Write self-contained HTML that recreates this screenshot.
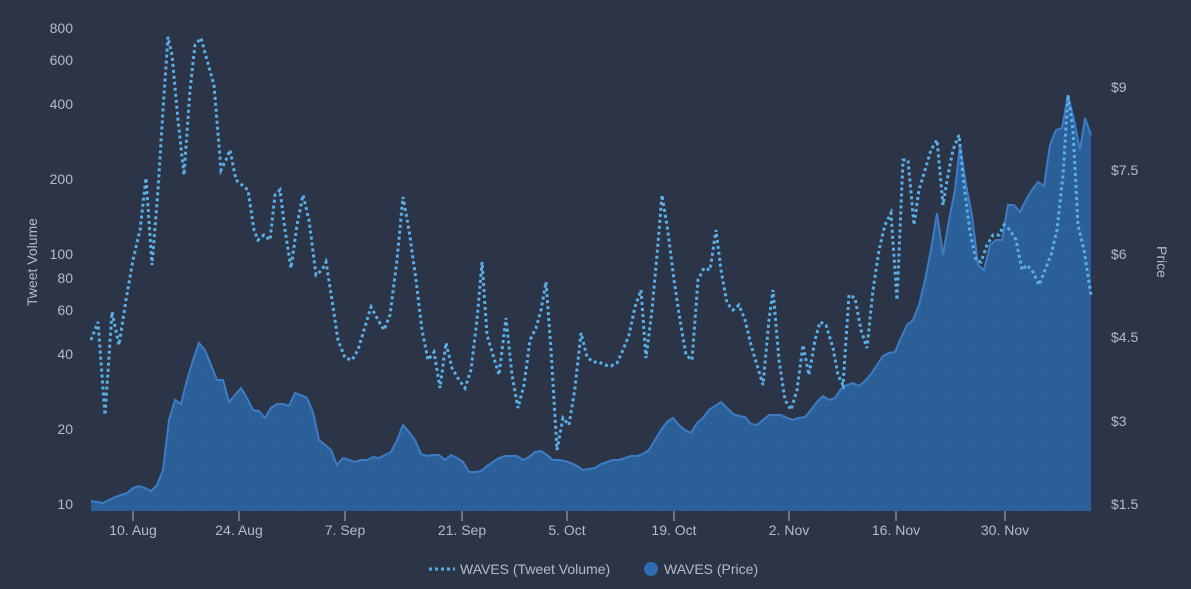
<!DOCTYPE html>
<html><head><meta charset="utf-8"><style>
html,body{margin:0;padding:0;background:#2c3547;}
svg{display:block;font-family:"Liberation Sans",sans-serif;}
</style></head><body>
<svg width="1191" height="589" viewBox="0 0 1191 589">
<defs><pattern id="dots" width="6" height="6" patternUnits="userSpaceOnUse"><rect width="6" height="6" fill="#2b5f98"/><circle cx="3" cy="3" r="0.5" fill="#3a6ea6"/></pattern></defs>
<rect width="1191" height="589" fill="#2c3547"/>
<path fill="url(#dots)" stroke="none" d="M91,511 L91,501 97,502 103,503 109,500 115,497 121,495 127,493 133,488 139,486 145,488 151,491 157,485 163,470 169,420 175,400 181,404 187,380 193,360 199,343 205,350 211,365 217,380 223,380 229,402 235,395 241,388 247,398 253,410 259,411 265,418 271,408 277,404 283,404 289,406 295,393 301,395 307,398 313,412 319,440 325,445 331,450 337,465 343,458 349,460 355,462 361,460 367,460 373,457 379,458 385,455 391,452 397,440 403,425 409,432 415,440 421,454 427,456 433,455 439,455 445,460 451,455 457,458 463,462 469,472 475,472 481,471 487,466 493,462 499,458 505,456 511,456 517,456 523,460 529,457 535,452 541,451 547,455 553,460 559,460 565,461 571,463 577,466 583,470 589,469 595,468 601,464 607,462 613,460 619,460 625,458 631,456 637,456 643,454 649,450 655,440 661,430 667,422 673,418 679,425 685,430 691,433 697,423 703,418 709,410 715,406 721,402 727,408 733,414 739,416 745,417 751,424 757,425 763,420 769,415 775,415 781,415 787,418 793,420 799,418 805,417 811,410 817,402 823,396 829,400 835,398 841,389 847,385 853,383 859,386 865,381 871,374 877,365 883,356 889,353 895,352 901,338 907,325 913,320 919,305 925,280 931,250 937,213 943,255 949,220 955,190 960,145 966,185 972,215 978,265 984,270 990,245 996,240 1002,240 1008,205 1014,205 1020,212 1026,200 1032,190 1038,182 1044,186 1050,145 1056,130 1062,128 1068,95 1074,120 1080,150 1085,118 1091,135 L1091,511 Z"/>
<polyline fill="none" stroke="#3d7cc4" stroke-width="2" points="91,501 97,502 103,503 109,500 115,497 121,495 127,493 133,488 139,486 145,488 151,491 157,485 163,470 169,420 175,400 181,404 187,380 193,360 199,343 205,350 211,365 217,380 223,380 229,402 235,395 241,388 247,398 253,410 259,411 265,418 271,408 277,404 283,404 289,406 295,393 301,395 307,398 313,412 319,440 325,445 331,450 337,465 343,458 349,460 355,462 361,460 367,460 373,457 379,458 385,455 391,452 397,440 403,425 409,432 415,440 421,454 427,456 433,455 439,455 445,460 451,455 457,458 463,462 469,472 475,472 481,471 487,466 493,462 499,458 505,456 511,456 517,456 523,460 529,457 535,452 541,451 547,455 553,460 559,460 565,461 571,463 577,466 583,470 589,469 595,468 601,464 607,462 613,460 619,460 625,458 631,456 637,456 643,454 649,450 655,440 661,430 667,422 673,418 679,425 685,430 691,433 697,423 703,418 709,410 715,406 721,402 727,408 733,414 739,416 745,417 751,424 757,425 763,420 769,415 775,415 781,415 787,418 793,420 799,418 805,417 811,410 817,402 823,396 829,400 835,398 841,389 847,385 853,383 859,386 865,381 871,374 877,365 883,356 889,353 895,352 901,338 907,325 913,320 919,305 925,280 931,250 937,213 943,255 949,220 955,190 960,145 966,185 972,215 978,265 984,270 990,245 996,240 1002,240 1008,205 1014,205 1020,212 1026,200 1032,190 1038,182 1044,186 1050,145 1056,130 1062,128 1068,95 1074,120 1080,150 1085,118 1091,135"/>
<polyline fill="none" stroke="#5aaee8" stroke-width="3" stroke-dasharray="3,3" points="91,340 98,322 105,415 112,312 119,345 126,300 133,260 140,230 146,178 152,265 158,190 163,110 168,37 172,55 178,120 184,175 190,90 195,45 201,38 207,60 214,85 221,170 226,160 230,150 236,180 242,185 248,190 254,230 258,240 264,235 270,240 275,195 280,190 285,230 291,268 297,225 303,195 309,220 316,275 322,270 326,262 332,300 338,340 345,358 352,360 358,350 364,330 371,307 377,318 384,330 390,315 397,260 403,197 409,230 416,280 422,330 428,360 434,352 440,388 446,343 452,368 459,380 465,388 471,370 477,320 482,262 487,335 493,355 499,375 506,318 512,375 518,408 524,385 530,340 536,328 541,310 546,282 551,350 557,450 563,418 569,425 575,388 581,333 587,357 593,362 599,362 605,365 611,366 617,363 623,350 629,335 635,307 641,290 646,358 652,310 657,255 662,195 668,232 674,280 680,320 686,355 692,360 698,280 704,268 710,270 716,230 721,270 727,303 733,310 739,305 745,320 751,345 757,365 763,385 769,320 773,290 779,360 785,400 791,410 797,390 803,345 809,375 815,340 820,322 826,325 833,348 838,375 843,385 849,295 855,298 861,330 867,348 873,290 879,250 885,225 891,213 897,300 903,160 908,160 914,225 919,190 925,170 931,150 937,140 943,205 948,175 953,150 959,135 964,185 970,232 976,260 981,262 987,245 993,235 999,235 1004,225 1010,230 1016,240 1022,270 1027,265 1033,272 1039,285 1045,270 1051,255 1057,230 1063,175 1068,95 1073,130 1078,225 1084,250 1091,295"/>
<g fill="#b0bccd" font-size="14" text-anchor="end">
<text x="73" y="33">800</text><text x="73" y="65">600</text><text x="73" y="109">400</text><text x="73" y="184">200</text><text x="73" y="259">100</text><text x="73" y="283">80</text><text x="73" y="315">60</text><text x="73" y="359">40</text><text x="73" y="434">20</text><text x="73" y="509">10</text>
</g>
<g fill="#b0bccd" font-size="14">
<text x="1111" y="92">$9</text><text x="1111" y="175">$7.5</text><text x="1111" y="259">$6</text><text x="1111" y="342">$4.5</text><text x="1111" y="426">$3</text><text x="1111" y="509">$1.5</text>
</g>
<text transform="translate(37,262) rotate(-90)" fill="#b0bccd" font-size="14" text-anchor="middle">Tweet Volume</text>
<text transform="translate(1157,262) rotate(90)" fill="#b0bccd" font-size="14" text-anchor="middle">Price</text>
<g stroke="#aab4c4" stroke-width="1">
<line x1="133" y1="511" x2="133" y2="521"/><line x1="239" y1="511" x2="239" y2="521"/><line x1="345" y1="511" x2="345" y2="521"/><line x1="462" y1="511" x2="462" y2="521"/><line x1="567" y1="511" x2="567" y2="521"/><line x1="674" y1="511" x2="674" y2="521"/><line x1="789" y1="511" x2="789" y2="521"/><line x1="896" y1="511" x2="896" y2="521"/><line x1="1005" y1="511" x2="1005" y2="521"/>
</g>
<g fill="#b0bccd" font-size="14" text-anchor="middle">
<text x="133" y="535">10. Aug</text><text x="239" y="535">24. Aug</text><text x="345" y="535">7. Sep</text><text x="462" y="535">21. Sep</text><text x="567" y="535">5. Oct</text><text x="674" y="535">19. Oct</text><text x="789" y="535">2. Nov</text><text x="896" y="535">16. Nov</text><text x="1005" y="535">30. Nov</text>
</g>
<line x1="429" y1="569" x2="455" y2="569" stroke="#5aaee8" stroke-width="3" stroke-dasharray="3,3"/>
<text x="460" y="574" fill="#b0bccd" font-size="14">WAVES (Tweet Volume)</text>
<circle cx="651" cy="569" r="7" fill="#2f6cb4"/>
<text x="664" y="574" fill="#b0bccd" font-size="14">WAVES (Price)</text>
</svg>
</body></html>
